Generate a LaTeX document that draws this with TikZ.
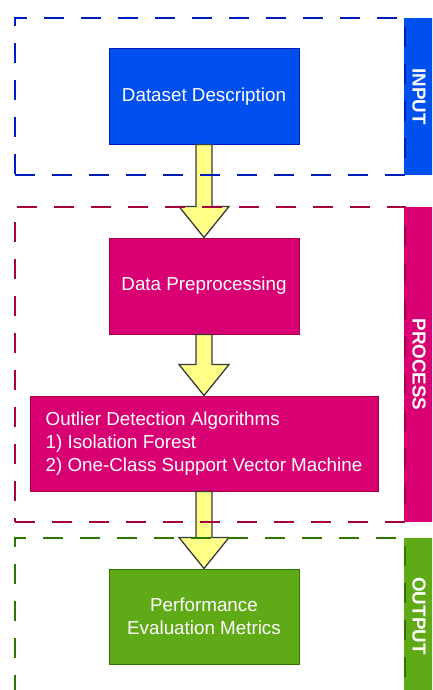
\documentclass[tikz,border=0pt]{standalone}
\usepackage{fontspec}
\setmainfont{Liberation Sans}
\usetikzlibrary{calc}

\definecolor{inblue}{HTML}{0050EF}
\definecolor{inbluedark}{HTML}{001DBC}
\definecolor{procpink}{HTML}{D80073}
\definecolor{procpinkdark}{HTML}{A50040}
\definecolor{outgreen}{HTML}{60A917}
\definecolor{outgreendark}{HTML}{2D7600}
\definecolor{arrowfill}{HTML}{FFFF88}
\definecolor{arrowline}{HTML}{36393D}

\tikzset{
  stagebox/.style={rectangle, draw=#1dark, fill=#1, line width=1pt, text=white,
    align=center, minimum width=190pt, minimum height=95pt, inner sep=0pt,
    font=\fontsize{18.8}{23}\selectfont},
  frame/.style={rectangle, draw=#1dark, line width=1.3pt, dash pattern=on 20pt off 17pt,
    minimum width=390pt, inner sep=0pt},
  band/.style={rectangle, fill=#1, rotate=-90, minimum height=30pt, inner sep=0pt,
    text=white, font=\fontsize{18.8}{23}\selectfont\bfseries},
  yellowarrow/.style={draw=arrowline, fill=arrowfill, line width=1.3pt, line join=miter},
}

% block arrow from the bottom of #1 down to the top of #2
\newcommand{\flowarrow}[2]{%
  \draw[yellowarrow] ($(#1.south)+(-8,0)$) -- ($(#2.north)+(-8,-31)$)
    -- ($(#2.north)+(-25,-31)$) -- (#2.north) -- ($(#2.north)+(25,-31)$)
    -- ($(#2.north)+(8,-31)$) -- ($(#1.south)+(8,0)$) -- cycle;}

\begin{document}
\begin{tikzpicture}[x=1pt, y=-1pt]
    \useasboundingbox (0,0) rectangle (432,690);
    \clip (0,0) rectangle (432,690);

    % Side bands
    \node[band=inblue, minimum width=157pt] (inband) at (419,96.5) {INPUT};
    \node[band=procpink, minimum width=315pt] (procband) at (419,364.5) {PROCESS};
    \node[band=outgreen, minimum width=156pt] (outband) at (419,616) {OUTPUT};

    % Steps
    \node[stagebox=inblue] (desc) at (204,96.5) {Dataset Description};
    \node[stagebox=procpink, minimum height=96pt] (prep) at (204,286) {Data Preprocessing};
    \node[stagebox=procpink, minimum width=348pt, align=left] (algo) at (204,443.5)
        {Outlier Detection Algorithms\\1) Isolation Forest\\2) One-Class Support Vector Machine};
    \node[stagebox=outgreen] (perf) at (204,616.5) {Performance\\Evaluation Metrics};

    % Arrows
    \flowarrow{desc}{prep}
    \flowarrow{prep}{algo}
    \flowarrow{algo}{perf}

    % Dashed stage frames
    \node[frame=inblue, minimum height=157pt] (inframe) at (210,96.5) {};
    \node[frame=procpink, minimum height=315pt] (procframe) at (210,364.5) {};
    \node[frame=outgreen, minimum height=156pt] (outframe) at (210,616) {};
\end{tikzpicture}
\end{document}
